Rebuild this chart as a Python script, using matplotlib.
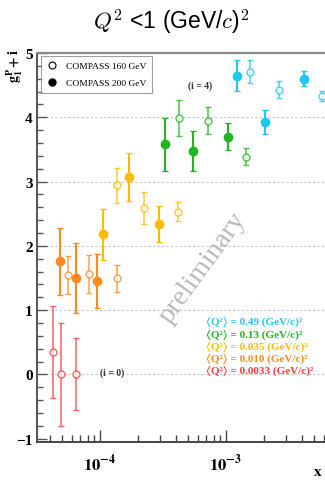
import matplotlib
matplotlib.use('Agg')
import matplotlib.pyplot as plt
from matplotlib.lines import Line2D
from matplotlib.ticker import FixedLocator, LogLocator, MultipleLocator, NullFormatter

plt.rcParams['mathtext.fontset'] = 'stix'

# ---------------- data (g1^p + i) ----------------
bins = ['0.0033', '0.010', '0.035', '0.13', '0.49']
colors = ['#ff3b3b', '#ff8a1f', '#ffbb00', '#22b522', '#1ec8f2']

# COMPASS 160 GeV (open markers)
x160_0 = [4.21e-5, 4.88e-5, 6.45e-5]
y160_0 = [0.35, 0.00, 0.01]
e160_0 = [0.72, 0.80, 0.56]
x160_1 = [5.54e-5, 8.18e-5, 1.37e-4]
y160_1 = [1.55, 1.56, 1.50]
e160_1 = [0.30, 0.30, 0.21]
x160_2 = [1.37e-4, 2.23e-4, 4.18e-4]
y160_2 = [2.94, 2.59, 2.53]
e160_2 = [0.27, 0.25, 0.15]
x160_3 = [4.26e-4, 7.24e-4, 1.43e-3]
y160_3 = [3.99, 3.95, 3.39]
e160_3 = [0.28, 0.21, 0.13]
x160_4 = [1.54e-3, 2.62e-3, 5.75e-3]
y160_4 = [4.71, 4.43, 4.33]
e160_4 = [0.175, 0.13, 0.08]

# COMPASS 200 GeV (filled markers)
x200_1 = [4.79e-5, 6.45e-5, 9.52e-5]
y200_1 = [1.76, 1.50, 1.46]
e200_1 = [0.52, 0.54, 0.42]
x200_2 = [1.06e-4, 1.70e-4, 2.94e-4]
y200_2 = [2.18, 3.07, 2.34]
e200_2 = [0.40, 0.37, 0.28]
x200_3 = [3.28e-4, 5.47e-4, 1.04e-3]
y200_3 = [3.58, 3.48, 3.70]
e200_3 = [0.41, 0.31, 0.21]
x200_4 = [1.22e-3, 2.03e-3, 4.16e-3]
y200_4 = [4.65, 3.93, 4.60]
e200_4 = [0.245, 0.19, 0.12]

open_sets = [(x160_0, y160_0, e160_0), (x160_1, y160_1, e160_1), (x160_2, y160_2, e160_2),
             (x160_3, y160_3, e160_3), (x160_4, y160_4, e160_4)]
filled_sets = [None, (x200_1, y200_1, e200_1), (x200_2, y200_2, e200_2),
               (x200_3, y200_3, e200_3), (x200_4, y200_4, e200_4)]

yticks = [-1, 0, 1, 2, 3, 4, 5]
ytick_labels = ['\u22121', '0', '1', '2', '3', '4', '5']
xticks = [1e-4, 1e-3]
xtick_labels = [r'$\mathbf{10^{-4}}$', r'$\mathbf{10^{-3}}$']

# ---------------- figure ----------------
W, H = 325, 481
fig = plt.figure(figsize=(W / 100, H / 100), dpi=100)
ax = fig.add_axes([37 / W, 1 - 443 / H, (335 - 37) / W, (443 - 54) / H])
ax.set_xscale('log')
ax.set_xlim(10 ** -4.5, 10 ** (-4 + (335 - 100) / 126))
ax.set_ylim(-1.05, 5.0)

for y in [0, 1, 2, 3, 4]:
    ax.axhline(y, color='#c4c4c4', lw=0.8, ls=(0, (2, 2)), zorder=0)

for c, s in zip(colors, open_sets):
    ax.errorbar(s[0], s[1], yerr=s[2], fmt='o', ms=5, mfc='white', mec=c, mew=1.0,
                ecolor=c, elinewidth=1.1, capsize=2, capthick=1.0, alpha=0.8, zorder=3)
for c, s in zip(colors, filled_sets):
    if s is None:
        continue
    ax.errorbar(s[0], s[1], yerr=s[2], fmt='o', ms=6, mfc=c, mec=c, mew=1.0,
                ecolor=c, elinewidth=1.5, capsize=2, capthick=1.2, zorder=4)

# axes styling
ax.spines['right'].set_visible(False)
ax.spines['top'].set_color('#8a8a8a')
ax.spines['top'].set_linewidth(1.6)
ax.spines['left'].set_color('#555555')
ax.spines['left'].set_linewidth(1.4)
ax.spines['bottom'].set_color('#444444')
ax.spines['bottom'].set_linewidth(1.4)

ax.xaxis.set_major_locator(FixedLocator(xticks))
ax.set_xticklabels(xtick_labels, fontsize=12)
ax.xaxis.set_minor_locator(LogLocator(base=10, subs=[2, 3, 4, 5, 6, 7, 8, 9], numticks=20))
ax.xaxis.set_minor_formatter(NullFormatter())
ax.yaxis.set_major_locator(FixedLocator(yticks))
ax.set_yticklabels(ytick_labels, fontsize=11, fontweight='bold', family='Liberation Serif')
ax.yaxis.set_minor_locator(MultipleLocator(0.2))
ax.tick_params(axis='x', which='major', direction='in', length=9, width=1, color='#444444', pad=8, top=False)
ax.tick_params(axis='x', which='minor', direction='in', length=5, width=1, color='#444444', top=False)
ax.tick_params(axis='y', which='major', direction='in', length=7, width=1, color='#555555', pad=3, right=False)
ax.tick_params(axis='y', which='minor', direction='in', length=4, width=1, color='#555555', right=False)

# legend
h_open = Line2D([], [], ls='none', marker='o', ms=5, mfc='white', mec='black', mew=0.8)
h_fill = Line2D([], [], ls='none', marker='o', ms=5, mfc='black', mec='black')
leg = ax.legend([h_open, h_fill], ['COMPASS 160 GeV', 'COMPASS 200 GeV'],
                loc='upper left', bbox_to_anchor=((41 - 37) / (335 - 37), 1 - (57 - 54) / (443 - 54)),
                prop={'family': 'Liberation Serif', 'size': 6.8}, frameon=True, fancybox=False,
                edgecolor='#888888', borderpad=0.6, handlelength=1.2, handletextpad=0.8,
                labelspacing=0.9, borderaxespad=0)
leg.get_frame().set_linewidth(0.8)

# annotations
fig.text(200 / W, 1 - 86 / H, '(i = 4)', fontsize=7, fontweight='bold', family='Liberation Serif',
         color='#333333', ha='center', va='center')
fig.text(112 / W, 1 - 373 / H, '(i = 0)', fontsize=7, fontweight='bold', family='Liberation Serif',
         color='#333333', ha='center', va='center')

q_labels = ['\u27e8Q\u00b2\u27e9 = ' + b + ' (GeV/c)\u00b2' for b in bins]
q_rows = [371, 359, 347, 335, 322]
for lab, c, yp in zip(q_labels, colors, q_rows):
    fig.text(206 / W, 1 - yp / H, lab, fontsize=8, fontweight='bold',
             family=['Liberation Serif', 'STIXGeneral', 'DejaVu Serif'],
             color=c, ha='left', va='center')

fig.text(203 / W, 1 - 268 / H, 'preliminary', fontsize=20, family='Liberation Serif',
         color='#b8b8b8', rotation=54, ha='center', va='center', zorder=1)

# axis labels
fig.text(15 / W, 1 - 66 / H, r'$\mathbf{g_1^P + i}$', fontsize=10, rotation=90,
         ha='center', va='center')
fig.text(318 / W, 1 - 472 / H, r'$\mathbf{x}$', fontsize=11, ha='center', va='center')

# title
fig.text(171 / W, 1 - 22 / H, r'$Q^2$ <1 (GeV/$c$)$^2$', fontsize=16.5, family='Liberation Sans',
         math_fontfamily='cm', ha='center', va='center')

fig.savefig('out.png', dpi=100)
